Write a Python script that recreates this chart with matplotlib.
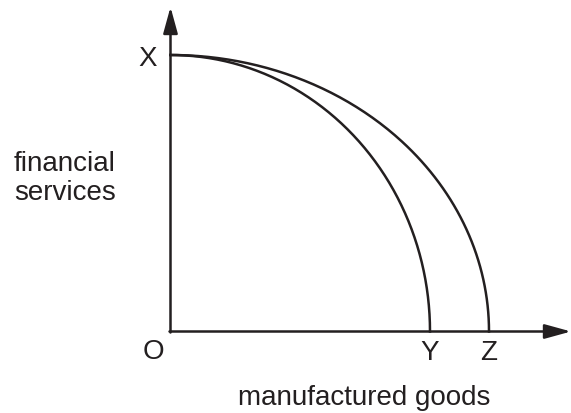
import matplotlib.pyplot as plt
import numpy as np

plt.rcParams["font.family"] = ["Liberation Sans", "DejaVu Sans"]

# intercepts of the two frontiers (axis units, origin at O)
x_intercept = 276.5          # point X on the financial services axis
frontier_labels = ["Y", "Z"]
frontier_ends = [259.5, 318.5]  # manufactured goods intercepts

INK = "#231f20"

fig = plt.figure(figsize=(5.71, 4.14), dpi=100)
ax = fig.add_axes([0, 0, 1, 1])
ax.set_xlim(-170.5, 400.5)
ax.set_ylim(-81.5, 332.5)
ax.axis("off")

arrow = dict(arrowstyle="-|>,head_length=0.8,head_width=0.22", mutation_scale=20,
             lw=1.8, color=INK, shrinkA=0, shrinkB=0)
ax.annotate("", xy=(0, 324.5), xytext=(0, -1), arrowprops=arrow)
ax.annotate("", xy=(400.5, 0), xytext=(-1, 0), arrowprops=arrow)

t = np.linspace(0, np.pi / 2, 200)
for end in frontier_ends:
    ax.plot(end * np.cos(t), x_intercept * np.sin(t), color=INK, lw=1.8)

fs = 20
ax.text(-22.5, x_intercept - 3, "X", fontsize=fs, ha="center", va="center", color=INK)
ax.text(-17.5, -20, "O", fontsize=fs, ha="center", va="center", color=INK)
for lab, end in zip(frontier_labels, frontier_ends):
    ax.text(end, -21, lab, fontsize=fs, ha="center", va="center", color=INK)
ax.text(-105.5, 154, "financial\nservices", fontsize=fs, ha="center", va="center",
        color=INK, linespacing=1.15)
ax.text(193.5, -66, "manufactured goods", fontsize=fs, ha="center", va="center", color=INK)

fig.savefig("out.png", dpi=100, facecolor="white")
